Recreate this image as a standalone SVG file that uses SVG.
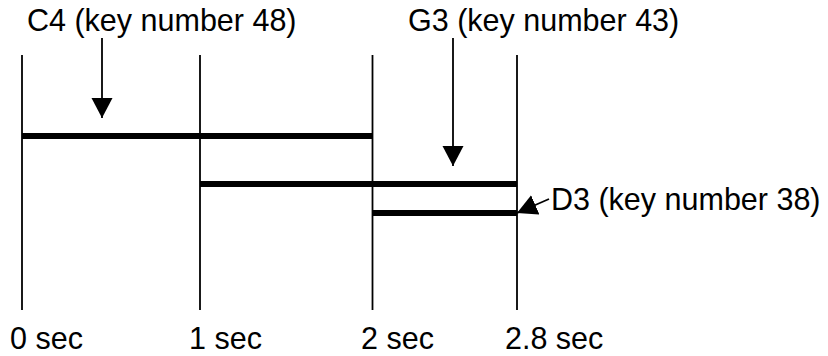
<svg xmlns="http://www.w3.org/2000/svg" width="828" height="356" viewBox="0 0 828 356">
  <defs>
    <marker id="head" markerUnits="userSpaceOnUse" markerWidth="22" markerHeight="22" refX="20" refY="10.5" orient="auto">
      <path d="M0,0 L20,10.5 L0,21 Z" fill="#000"/>
    </marker>
    <style>
      text { font-family: "Liberation Sans", Arial, sans-serif; font-size: 30.5px; fill: #000; }
      .tick { stroke: #000; stroke-width: 1.8; fill: none; }
      .note { stroke: #000; stroke-width: 6; fill: none; }
      .ptr { stroke: #000; stroke-width: 1.8; fill: none; marker-end: url(#head); }
    </style>
  </defs>
  <rect width="828" height="356" fill="#fff"/>

  <!-- time grid -->
  <g id="timeline">
    <line class="tick" x1="22" y1="55" x2="22" y2="310"/>
    <line class="tick" x1="200" y1="55" x2="200" y2="310"/>
    <line class="tick" x1="372.5" y1="55" x2="372.5" y2="310"/>
    <line class="tick" x1="517" y1="55" x2="517" y2="310"/>
    <text x="10" y="349">0 sec</text>
    <text x="189" y="349">1 sec</text>
    <text x="361" y="349">2 sec</text>
    <text x="505" y="349">2.8 sec</text>
  </g>

  <!-- notes -->
  <g id="note-c4">
    <line class="note" x1="22" y1="136" x2="372.5" y2="136"/>
    <text x="27" y="31">C4 (key number 48)</text>
  </g>
  <g id="note-g3">
    <line class="note" x1="200" y1="184" x2="517" y2="184"/>
    <text x="408" y="31">G3 (key number 43)</text>
  </g>
  <g id="note-d3">
    <line class="note" x1="372.5" y1="213" x2="517" y2="213"/>
    <text x="551" y="210">D3 (key number 38)</text>
  </g>

  <!-- pointers from labels to notes -->
  <g id="connectors">
    <line class="ptr" x1="102" y1="38" x2="102" y2="118"/>
    <line class="ptr" x1="453" y1="38" x2="453" y2="166"/>
    <line class="ptr" x1="549" y1="199" x2="517" y2="213"/>
  </g>
</svg>
